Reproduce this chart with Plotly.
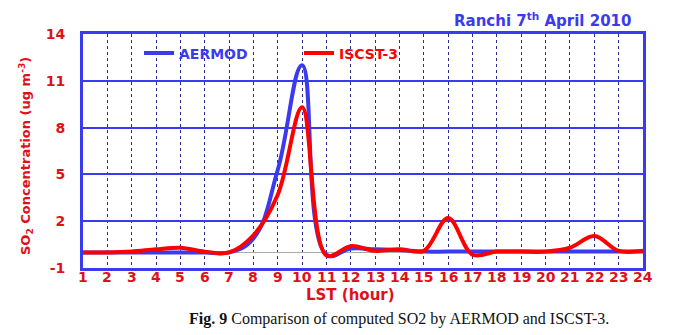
import plotly.graph_objects as go

hours = list(range(1, 25))
aermod = [0.0, 0.0, 0.0, 0.0, 0.0, 0.0, 0.0, 0.9, 5.3, 12.0, -0.15, 0.25, 0.2, 0.15, 0.05, 0.05, 0.05, 0.05, 0.05, 0.05, 0.05, 0.05, 0.05, 0.05]
iscst = [0.0, 0.0, 0.05, 0.2, 0.3, 0.05, 0.0, 1.1, 3.7, 9.3, -0.2, 0.4, 0.1, 0.2, 0.1, 2.2, -0.15, 0.05, 0.05, 0.05, 0.3, 1.05, 0.1, 0.1]
x_tick_labels = [str(h) for h in hours]
y_ticks = [-1, 2, 5, 8, 11, 14]

BLUE = "#3a3af0"
RED = "#ff0000"
TICKRED = "#e0101a"

fig = go.Figure()
fig.add_trace(go.Scatter(x=hours, y=aermod, mode="lines",
                         line=dict(color=BLUE, width=4, shape="spline", smoothing=1.2),
                         name="<span style='color:%s'><b>AERMOD</b></span>" % BLUE))
fig.add_trace(go.Scatter(x=hours, y=iscst, mode="lines",
                         line=dict(color=RED, width=4, shape="spline", smoothing=1.0),
                         name="<span style='color:%s'><b>ISCST-3</b></span>" % RED))

fig.update_layout(
    width=677, height=335,
    margin=dict(l=83, r=34, t=34, b=67),
    paper_bgcolor="white", plot_bgcolor="white",
    font=dict(family="DejaVu Sans", size=13, color=TICKRED),
    showlegend=True,
    legend=dict(orientation="h", x=0.1, y=0.985, xanchor="left", yanchor="top",
                bgcolor="rgba(0,0,0,0)", font=dict(size=14, family="DejaVu Sans"),
                entrywidth=115, entrywidthmode="pixels", itemwidth=30),
)
fig.update_xaxes(range=[1, 24], tickmode="array", tickvals=hours,
                 showticklabels=False,
                 showgrid=True, gridcolor="#2a2aa0", griddash="dot", gridwidth=1,
                 showline=True, linecolor=BLUE, linewidth=3, mirror=True,
                 ticks="", zeroline=False)
fig.update_yaxes(range=[-1, 14], tickmode="array", tickvals=y_ticks,
                 ticktext=[str(v) for v in y_ticks],
                 showgrid=True, gridcolor=BLUE, gridwidth=2,
                 showline=True, linecolor=BLUE, linewidth=3, mirror=True,
                 ticks="", ticklabelstandoff=12,
                 zeroline=True, zerolinecolor="#aaaaaa", zerolinewidth=1,
                 tickfont=dict(family="DejaVu Sans", size=14, color=TICKRED, weight="bold"))

for h, lab in zip(hours, x_tick_labels):
    fig.add_annotation(xref="x", yref="paper", x=h, y=0, xanchor="center", yanchor="middle",
                       yshift=-9, text="<b>%s</b>" % lab, showarrow=False,
                       font=dict(family="DejaVu Sans", size=14, color=TICKRED))

fig.add_annotation(xref="paper", yref="paper", x=0.982, y=1.06, xanchor="right", yanchor="middle",
                   text="<b>Ranchi 7<sup>th</sup> April 2010</b>", showarrow=False,
                   font=dict(family="DejaVu Sans", size=15, color=BLUE))
fig.add_annotation(xref="paper", yref="paper", x=-0.103, y=0.48, xanchor="center", yanchor="middle",
                   textangle=-90, showarrow=False,
                   text="<b>SO<sub>2</sub> Concentration (ug m<sup>-3</sup>)</b>",
                   font=dict(family="DejaVu Sans", size=13, color=TICKRED))
fig.add_annotation(xref="paper", yref="paper", x=0.477, y=-0.115, xanchor="center", yanchor="middle",
                   text="<b>LST (hour)</b>", showarrow=False,
                   font=dict(family="DejaVu Sans", size=15, color=TICKRED))
fig.add_annotation(xref="paper", yref="paper", x=0.564, y=-0.216, xanchor="center", yanchor="middle",
                   text="<b>Fig. 9</b> Comparison of computed SO2 by AERMOD and ISCST-3.", showarrow=False,
                   font=dict(family="Liberation Serif", size=16, color="#111111"))

fig.write_html("out.html")
